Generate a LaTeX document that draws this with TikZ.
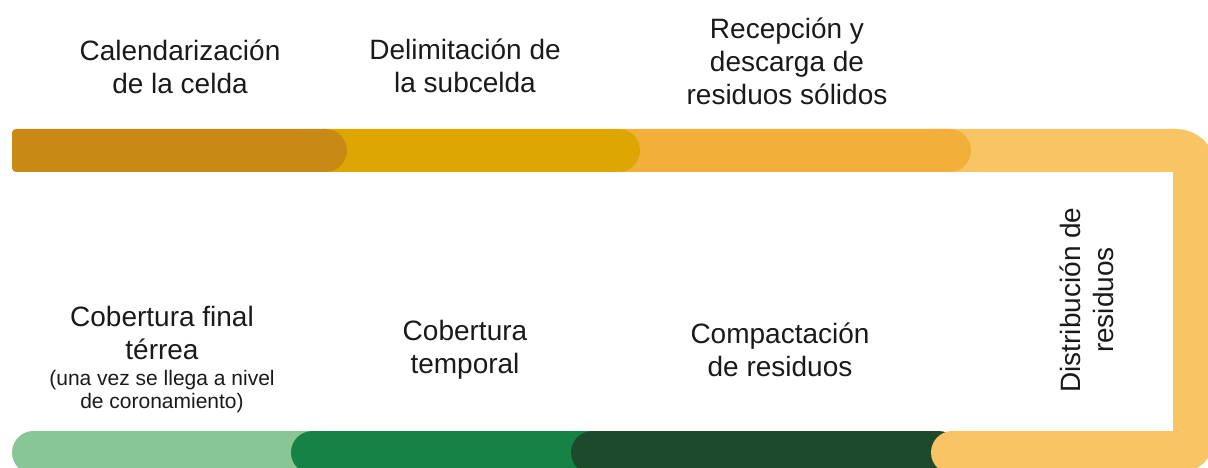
\documentclass[tikz,border=0pt]{standalone}
\usepackage{fontspec}
\setmainfont{Liberation Sans}
\definecolor{cA}{HTML}{C98A15}
\definecolor{cB}{HTML}{DEA602}
\definecolor{cC}{HTML}{F2AF3A}
\definecolor{cD}{HTML}{F9C464}
\definecolor{gA}{HTML}{88C695}
\definecolor{gB}{HTML}{178245}
\definecolor{gC}{HTML}{1C4A2A}
\definecolor{ink}{HTML}{1A1A1A}
\tikzset{
  lbl/.style={align=center, inner sep=0pt, text=ink, font=\fontsize{28}{33}\selectfont},
  sml/.style={align=center, inner sep=0pt, text=ink, font=\fontsize{21}{23}\selectfont},
  seg/.style={rounded corners=21.5pt}
}
\begin{document}
\begin{tikzpicture}[x=1pt,y=-1pt]
\useasboundingbox (0,0) rectangle (1208,468);
\begin{scope}
\clip (0,0) rectangle (1208,468);
% bottom bar
\fill[gA, seg] (12,431) rectangle (330,474);
\fill[gB, seg] (291,431) rectangle (620,474);
\fill[gC, seg] (571,431) rectangle (960,474);
% L-shaped connector bar
\coordinate (ls) at (930,150.5);
\coordinate (lc1) at (1194.5,150.5);
\coordinate (lc2) at (1194.5,452.5);
\coordinate (le) at (952.5,452.5);
\draw[cD, line width=43pt, rounded corners=18.5pt, line cap=round] (ls) -- (lc1) -- (lc2) -- (le);
% top bar
\fill[cC, seg] (600,129) rectangle (971,172);
\fill[cB, seg] (300,129) rectangle (640,172);
\begin{scope}
\clip[rounded corners=4pt] (12,129) rectangle (400,172);
\fill[cA, seg] (-100,129) rectangle (347,172);
\end{scope}
\end{scope}
% labels
\node[lbl] (t1) at (180,67) {Calendarización\\de la celda};
\node[lbl] (t2) at (465,66) {Delimitación de\\la subcelda};
\node[lbl] (t3) at (787,61) {Recepción y\\descarga de\\residuos sólidos};
\node[lbl, rotate=90] (t4) at (1087,300) {Distribución de\\residuos};
\node[lbl] (b1) at (162,333) {Cobertura final\\térrea};
\node[sml] (b1s) at (162,392) {(una vez se llega a nivel\\de coronamiento)};
\node[lbl] (b2) at (465,350) {Cobertura\\temporal};
\node[lbl] (b3) at (780,350) {Compactación\\de residuos};
\end{tikzpicture}
\end{document}
